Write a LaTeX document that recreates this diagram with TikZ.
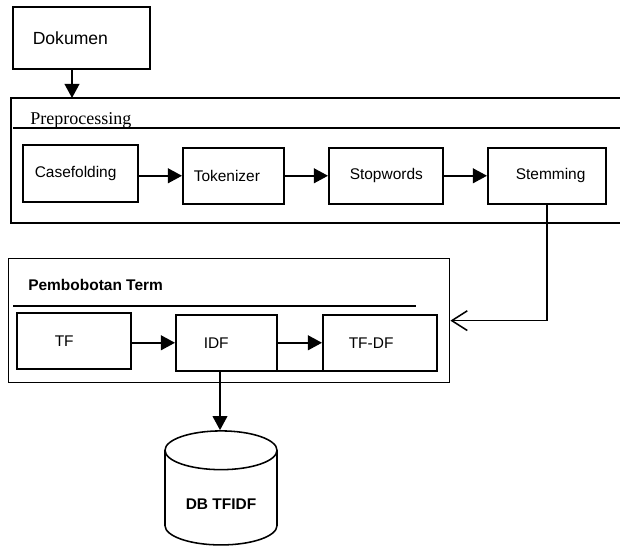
\documentclass[tikz,border=0pt]{standalone}
\usepackage{fontspec}
\setmainfont{Liberation Sans}
\newfontfamily\serifface{Liberation Serif}
\usetikzlibrary{arrows.meta}
\usetikzlibrary{shapes.geometric}

\begin{document}
\begin{tikzpicture}[x=0.025cm, y=-0.025cm,
    box/.style={draw, line width=1.1pt, anchor=north west, align=left, inner ysep=0pt, font=\fontsize{11}{13}\selectfont},
    frame/.style={draw, line width=0.9pt},
    arr/.style={line width=1.1pt, -{Triangle[length=10pt, width=10.5pt]}},
    openarr/.style={line width=1.1pt, -{Straight Barb[length=11pt, width=14pt]}}]
        \useasboundingbox (0,0) rectangle (620,551);
        % coordinates
        \coordinate (prein) at (72,98);
        \coordinate (idfout) at (220,371);
        \coordinate (idfend) at (371,371);

        % frames
        \draw[frame] (620,98) -- (11,98) -- (11,223) -- (620,223);
        \draw[frame] (13,128) -- (620,128);
        \node[frame, anchor=north west, minimum width=11.025cm, minimum height=3.1cm, inner sep=0pt] (pemb) at (8,258) {};
        \draw[frame] (13,306) -- (416,306);

        % Text
        \node[anchor=base west, inner sep=0pt, font=\serifface\fontsize{12.8}{15}\selectfont] (pretitle) at (30,125) {Preprocessing};
        \node[anchor=base west, inner sep=0pt, font=\bfseries\fontsize{11}{13}\selectfont] (pembtitle) at (28,291) {Pembobotan Term};

        % boxes
        \node[box, minimum height=1.55cm, text width=2.425cm, inner xsep=0.5cm, font=\fontsize{12.5}{15}\selectfont] (doc) at (12,6) {Dokumen};
        \node[box, minimum height=1.425cm, text width=2.275cm, inner xsep=0.3cm] (case) at (22,144) {Casefolding};
        \node[box, minimum height=1.4cm, text width=1.975cm, inner xsep=0.275cm] (tok) at (182,147) {Tokenizer};
        \node[box, minimum height=1.4cm, text width=1.8cm, inner xsep=0.525cm] (stop) at (328,147) {Stopwords};
        \node[box, minimum height=1.4cm, text width=1.55cm, inner xsep=0.7cm] (stem) at (487,147) {Stemming};
        \node[box, minimum height=1.4cm, text width=0.95cm, inner xsep=0.95cm] (tf) at (16,312) {TF};
        \node[box, minimum height=1.4cm, text width=1.125cm, inner xsep=0.7cm] (idf) at (175,314) {IDF};
        \node[box, minimum height=1.4cm, text width=1.55cm, inner xsep=0.65cm] (tfdf) at (322,314) {TF-DF};

        % database
        \node[draw, cylinder, shape border rotate=90, aspect=0.55, minimum width=2.8cm, minimum height=2.85cm, line width=1.1pt, inner sep=0pt, text height=17pt, text depth=0pt, font=\bfseries\fontsize{11}{13}\selectfont] (db) at (221,498) {DB TFIDF};

        % arrows
        \draw[arr] (prein |- doc.south) -- (prein);
        \draw[arr] (case.east |- tok.west) -- (tok.west);
        \draw[arr] (tok.east) -- (stop.west);
        \draw[arr] (stop.east) -- (stem.west);
        \draw[openarr] (stem.south) |- (pemb.east);
        \draw[arr] (tf.east |- idf.west) -- (idf.west);
        \draw[arr] (idf.east) -- (tfdf.west);
        \draw[line width=1.1pt] (idfout) -- (idfend);
        \draw[arr] (idfout) -- (idfout |- db.north);
\end{tikzpicture}
\end{document}
